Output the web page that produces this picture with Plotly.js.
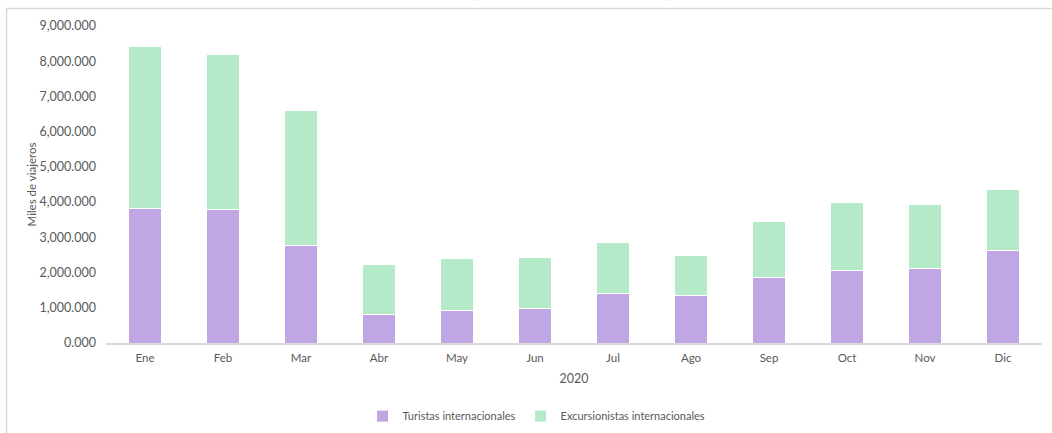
<!DOCTYPE html>
<html>
<head>
<meta charset="utf-8">
<script src="https://cdn.plot.ly/plotly-3.0.1.min.js"></script>
<style>html,body{margin:0;padding:0;background:#fff;}#chart{width:1052px;height:433px;}</style>
</head>
<body>
<div id="chart"></div>
<script>
const months = ["Ene","Feb","Mar","Abr","May","Jun","Jul","Ago","Sep","Oct","Nov","Dic"];
const turistas = [3810, 3780, 2760, 800, 910, 970, 1400, 1360, 1850, 2070, 2110, 2620];
const excursionistas = [4600, 4400, 3830, 1440, 1500, 1470, 1460, 1120, 1610, 1910, 1830, 1740];
const yTicks = [0, 1000, 2000, 3000, 4000, 5000, 6000, 7000, 8000, 9000];

const FONT = "Lato, 'Open Sans', sans-serif";
const GRAY = "#595959";

const traces = [
  {type: "bar", name: "Turistas internacionales", x: months, y: turistas,
   marker: {color: "#c0a6e3", line: {color: "#ffffff", width: 1}}},
  {type: "bar", name: "Excursionistas internacionales", x: months, y: excursionistas,
   marker: {color: "#b4eac7", line: {color: "#ffffff", width: 1}}}
];

const layout = {
  width: 1052, height: 433,
  margin: {l: 106, r: 10, t: 26, b: 90, autoexpand: false},
  barmode: "stack",
  bargap: 0.58,
  paper_bgcolor: "#ffffff",
  plot_bgcolor: "#ffffff",
  font: {family: FONT, color: GRAY, size: 11},
  showlegend: true,
  legend: {orientation: "h", xref: "container", yref: "container",
           x: 0.51, xanchor: "center", y: 0.039, yanchor: "middle",
           font: {family: FONT, size: 11, color: GRAY}, itemwidth: 30, traceorder: "normal"},
  xaxis: {
    type: "category", automargin: false,
    showline: true, linecolor: "#d9d9d9", linewidth: 1.5,
    showgrid: false, ticks: "", zeroline: false,
    ticklabelstandoff: 4,
    tickfont: {family: FONT, size: 11.5, color: GRAY},
    title: {text: "2020", font: {family: FONT, size: 12.5, color: GRAY}, standoff: 11}
  },
  yaxis: {
    automargin: false,
    range: [0, 9000],
    tickvals: yTicks,
    tickformat: ",.3f",
    showgrid: false, zeroline: false, showline: false, ticks: "",
    ticklabelstandoff: 9,
    tickfont: {family: FONT, size: 12.5, color: GRAY},
    title: {text: "Miles de viajeros", font: {family: FONT, size: 11.5, color: GRAY}, standoff: 0}
  },
  shapes: [{
    type: "rect", xref: "paper", yref: "paper",
    x0: -0.1063, x1: 1.03, y0: -0.32, y1: 1.0552,
    line: {color: "#d9d9d9", width: 1.5}, fillcolor: "rgba(0,0,0,0)", layer: "below"
  }],
  annotations: [{
    text: "<b>(Miles de viajeros)</b>", xref: "paper", yref: "paper",
    x: 0.498, y: 1.072, xanchor: "center", yanchor: "bottom", showarrow: false,
    font: {family: "'Liberation Serif', serif", size: 26, color: "#000000"}
  }]
};

Plotly.newPlot("chart", traces, layout, {displayModeBar: false, staticPlot: true});
</script>
</body>
</html>
